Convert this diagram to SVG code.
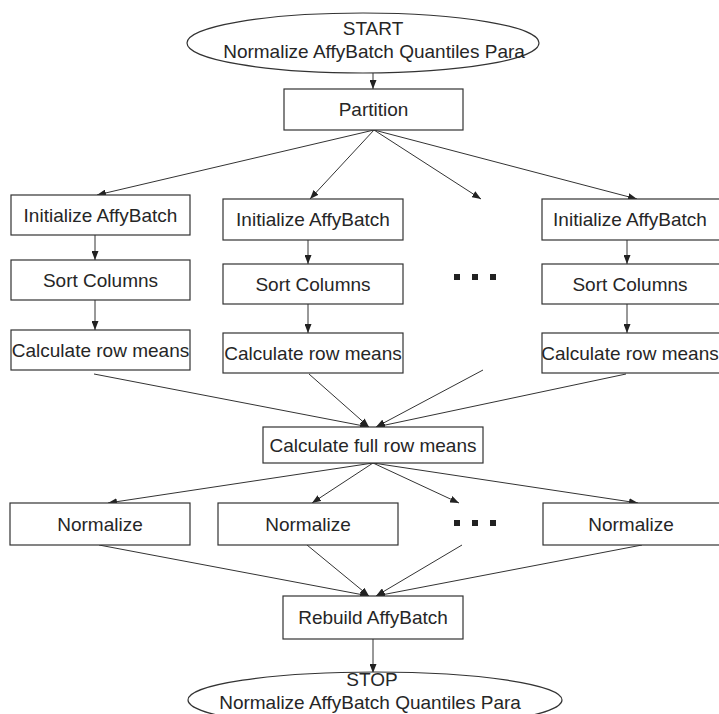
<svg xmlns="http://www.w3.org/2000/svg" width="719" height="714" viewBox="0 0 719 714">
<style>
.bx{fill:#fff;stroke:#333;stroke-width:1.2}
.t{font-family:"Liberation Sans",Arial,sans-serif;font-size:19px;fill:#262626;text-anchor:middle}
.c{stroke:#333;stroke-width:1;fill:none}
.dot{fill:#222}
</style>
<defs>
<marker id="ah" markerWidth="9" markerHeight="7" refX="9" refY="3.5" orient="auto" markerUnits="userSpaceOnUse">
<path d="M0,0 L9,3.5 L0,7 Z" fill="#222"/>
</marker>
</defs>
<rect width="719" height="714" fill="#fff"/>
<g id="connectors">
<line class="c" x1="373" y1="73" x2="373" y2="89" marker-end="url(#ah)"/>
<line class="c" x1="374" y1="130" x2="97" y2="195" marker-end="url(#ah)"/>
<line class="c" x1="374" y1="130" x2="310" y2="199" marker-end="url(#ah)"/>
<line class="c" x1="374" y1="130" x2="481" y2="199" marker-end="url(#ah)"/>
<line class="c" x1="374" y1="130" x2="637" y2="199" marker-end="url(#ah)"/>
<line class="c" x1="95" y1="235" x2="95" y2="260" marker-end="url(#ah)"/>
<line class="c" x1="95" y1="300" x2="95" y2="330" marker-end="url(#ah)"/>
<line class="c" x1="308" y1="240" x2="308" y2="264" marker-end="url(#ah)"/>
<line class="c" x1="308" y1="304" x2="308" y2="333" marker-end="url(#ah)"/>
<line class="c" x1="627" y1="240" x2="627" y2="264" marker-end="url(#ah)"/>
<line class="c" x1="627" y1="304" x2="627" y2="333" marker-end="url(#ah)"/>
<line class="c" x1="94" y1="374" x2="369" y2="427" marker-end="url(#ah)"/>
<line class="c" x1="309" y1="374" x2="369" y2="427" marker-end="url(#ah)"/>
<line class="c" x1="483" y1="370" x2="376" y2="427" marker-end="url(#ah)"/>
<line class="c" x1="626" y1="374" x2="376" y2="427" marker-end="url(#ah)"/>
<line class="c" x1="373" y1="463" x2="108" y2="503" marker-end="url(#ah)"/>
<line class="c" x1="373" y1="463" x2="312" y2="503" marker-end="url(#ah)"/>
<line class="c" x1="373" y1="463" x2="459" y2="503" marker-end="url(#ah)"/>
<line class="c" x1="373" y1="463" x2="638" y2="503" marker-end="url(#ah)"/>
<line class="c" x1="99" y1="545" x2="369" y2="596" marker-end="url(#ah)"/>
<line class="c" x1="307" y1="545" x2="369" y2="596" marker-end="url(#ah)"/>
<line class="c" x1="462" y1="545" x2="376" y2="596" marker-end="url(#ah)"/>
<line class="c" x1="642" y1="545" x2="376" y2="596" marker-end="url(#ah)"/>
<line class="c" x1="373" y1="639" x2="373" y2="673" marker-end="url(#ah)"/>
</g>
<g id="start">
<ellipse class="bx" cx="363" cy="43" rx="176" ry="30"/>
<text class="t" x="373" y="35">START</text>
<text class="t" x="374" y="58">Normalize AffyBatch Quantiles Para</text>
</g>
<g id="partition">
<rect class="bx" x="284" y="89" width="179" height="41"/>
<text class="t" x="373.5" y="116">Partition</text>
</g>
<g id="init1"><rect class="bx" x="11" y="195" width="179" height="40"/><text class="t" x="100.5" y="222">Initialize AffyBatch</text></g>
<g id="sort1"><rect class="bx" x="11" y="260" width="179" height="40"/><text class="t" x="100.5" y="287">Sort Columns</text></g>
<g id="calc1"><rect class="bx" x="11" y="330" width="179" height="40"/><text class="t" x="100.5" y="357">Calculate row means</text></g>
<g id="init2"><rect class="bx" x="223" y="199" width="180" height="41"/><text class="t" x="313" y="226">Initialize AffyBatch</text></g>
<g id="sort2"><rect class="bx" x="223" y="264" width="180" height="40"/><text class="t" x="313" y="291">Sort Columns</text></g>
<g id="calc2"><rect class="bx" x="223" y="333" width="180" height="40"/><text class="t" x="313" y="360">Calculate row means</text></g>
<g id="init3"><rect class="bx" x="542" y="199" width="180" height="41"/><text class="t" x="630" y="226">Initialize AffyBatch</text></g>
<g id="sort3"><rect class="bx" x="542" y="264" width="180" height="40"/><text class="t" x="630" y="291">Sort Columns</text></g>
<g id="calc3"><rect class="bx" x="542" y="333" width="180" height="40"/><text class="t" x="630" y="360">Calculate row means</text></g>
<g id="dots1">
<rect class="dot" x="454" y="274" width="6" height="6"/>
<rect class="dot" x="472" y="274" width="6" height="6"/>
<rect class="dot" x="490" y="274" width="6" height="6"/>
</g>
<g id="fullmeans">
<rect class="bx" x="263" y="427" width="220" height="36"/>
<text class="t" x="373" y="452">Calculate full row means</text>
</g>
<g id="norm1"><rect class="bx" x="10" y="503" width="180" height="42"/><text class="t" x="100" y="531">Normalize</text></g>
<g id="norm2"><rect class="bx" x="218" y="503" width="180" height="42"/><text class="t" x="308" y="531">Normalize</text></g>
<g id="norm3"><rect class="bx" x="543" y="503" width="180" height="42"/><text class="t" x="631" y="531">Normalize</text></g>
<g id="dots2">
<rect class="dot" x="454" y="520" width="6" height="6"/>
<rect class="dot" x="472" y="520" width="6" height="6"/>
<rect class="dot" x="490" y="520" width="6" height="6"/>
</g>
<g id="rebuild">
<rect class="bx" x="283" y="596" width="180" height="43"/>
<text class="t" x="373" y="624">Rebuild AffyBatch</text>
</g>
<g id="stop">
<ellipse class="bx" cx="375" cy="700" rx="187" ry="28"/>
<text class="t" x="372" y="686">STOP</text>
<text class="t" x="370" y="709">Normalize AffyBatch Quantiles Para</text>
</g>
</svg>
